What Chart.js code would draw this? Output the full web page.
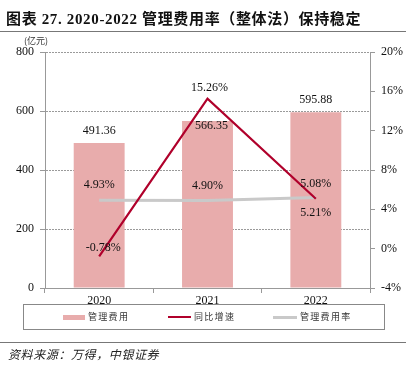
<!DOCTYPE html>
<html><head><meta charset="utf-8">
<script src="https://cdn.jsdelivr.net/npm/chart.js@4/dist/chart.umd.min.js"></script>
<style>
html,body{margin:0;padding:0;background:#fff;}
#wrap{position:relative;width:406px;height:374px;overflow:hidden;}
#c{position:absolute;left:0;top:0;}
.t{position:absolute;white-space:nowrap;color:#111;}
#title{left:6px;top:7px;font:bold 15px "Liberation Serif","Noto Sans CJK SC";letter-spacing:0.65px;}
#tline{position:absolute;left:0;top:31px;width:406px;height:1px;background:#777;}
#unit{left:24px;top:34px;font:9px "Noto Sans CJK SC";color:#333;}
#legend{position:absolute;left:23px;top:304px;width:362px;height:26px;border:1px solid #888;box-sizing:border-box;}
.sw{position:absolute;top:12px;}
.lt{position:absolute;top:5px;font:9px "Noto Sans CJK SC";letter-spacing:1.3px;color:#333;white-space:nowrap;}
#bline{position:absolute;left:0;top:342px;width:406px;height:1px;background:#777;}
#src{left:8px;top:345px;font:italic 12px "Noto Sans CJK SC";letter-spacing:0.6px;color:#222;}
</style></head>
<body><div id="wrap">
<canvas id="c" width="406" height="374"></canvas>
<div class="t" id="title">图表 27. 2020-2022 管理费用率（整体法）保持稳定</div>
<div id="tline"></div>
<div class="t" id="unit">(亿元)</div>
<div id="legend"></div>
<div id="bline"></div>
<div class="t" id="src">资料来源：万得，中银证券</div>
</div>
<script>
const years = ['2020','2021','2022'];
const expense = [491.36, 566.35, 595.88];     // 管理费用 (亿元)
const growth = [-0.78, 15.26, 5.08];          // 同比增速 (%)
const rate = [4.93, 4.90, 5.21];              // 管理费用率 (%)
const seriesNames = ['管理费用','同比增速','管理费用率'];

const barColor = '#E8ACAC', redColor = '#B0002B', grayColor = '#C9C9C9';

// legend (HTML)
const leg = document.getElementById('legend');
const legItems = [
  {x:39, w:22, h:5, c:barColor, tx:64},
  {x:144, w:23, h:2, c:redColor, tx:170},
  {x:249, w:24, h:3, c:grayColor, tx:276}
];
legItems.forEach((it,i)=>{
  const s=document.createElement('div'); s.className='sw';
  s.style.left=it.x+'px'; s.style.width=it.w+'px'; s.style.height=it.h+'px';
  s.style.top=(12-it.h/2)+'px'; s.style.background=it.c; leg.appendChild(s);
  const t=document.createElement('div'); t.className='lt'; t.style.left=it.tx+'px';
  t.textContent=seriesNames[i]; leg.appendChild(t);
});

// label offsets (dx, dy) relative to element position
const labelCfg = {
  0: {fmt:v=>v.toFixed(2), off:[[0,-12],[4,5],[0,-12]]},
  1: {fmt:v=>v.toFixed(2)+'%', off:[[4,-8],[2,-11],[0,-15]]},
  2: {fmt:v=>v.toFixed(2)+'%', off:[[0,-15],[0,-15],[0,15]]}
};
const labelPlugin = {
  id:'labels',
  afterDatasetsDraw(chart){
    const ctx=chart.ctx; ctx.save();
    ctx.font='12px "Liberation Serif"'; ctx.fillStyle='#111';
    ctx.textAlign='center'; ctx.textBaseline='middle';
    chart.data.datasets.forEach((ds,di)=>{
      const meta=chart.getDatasetMeta(di); const cfg=labelCfg[di];
      meta.data.forEach((el,i)=>{
        const o=cfg.off[i];
        ctx.fillText(cfg.fmt(ds.data[i]), el.x+o[0], el.y+o[1]);
      });
    });
    ctx.restore();
  }
};

const axisColor='#999';
new Chart(document.getElementById('c'),{
  type:'bar',
  data:{labels:years,datasets:[
    {type:'bar',label:seriesNames[0],data:expense,backgroundColor:barColor,yAxisID:'y',
     categoryPercentage:1,barPercentage:0.47,order:3},
    {type:'line',label:seriesNames[1],data:growth,borderColor:redColor,borderWidth:2.2,
     pointRadius:0,yAxisID:'y1',order:1,tension:0},
    {type:'line',label:seriesNames[2],data:rate,borderColor:grayColor,borderWidth:3,
     pointRadius:0,yAxisID:'y1',order:2,tension:0}
  ]},
  options:{
    responsive:false,animation:false,devicePixelRatio:1,
    layout:{padding:{top:52,left:0,right:0,bottom:0}},
    plugins:{legend:{display:false},tooltip:{enabled:false}},
    scales:{
      x:{
        grid:{offset:true,drawOnChartArea:false,tickLength:5,color:axisColor},
        border:{display:true,color:axisColor,z:1},
        ticks:{padding:1,color:'#111',font:{family:'Liberation Serif',size:12}},
        afterFit(s){s.height=86;}
      },
      y:{
        position:'left',min:0,max:800,
        ticks:{stepSize:200,padding:6,color:'#111',font:{family:'Liberation Serif',size:12}},
        grid:{color:'#9a9a9a',tickColor:axisColor,tickBorderDash:[0,0],tickLength:5,lineWidth:1},
        border:{display:true,color:axisColor,dash:[2,1]},
        afterFit(s){s.width=45;}
      },
      y1:{
        position:'right',min:-4,max:20,
        ticks:{stepSize:4,padding:6,color:'#111',font:{family:'Liberation Serif',size:12},
               callback:v=>v+'%'},
        grid:{drawOnChartArea:false,tickLength:5,color:axisColor},
        border:{display:true,color:axisColor},
        afterFit(s){s.width=36;}
      }
    }
  },
  plugins:[labelPlugin]
});
</script>
</body></html>
